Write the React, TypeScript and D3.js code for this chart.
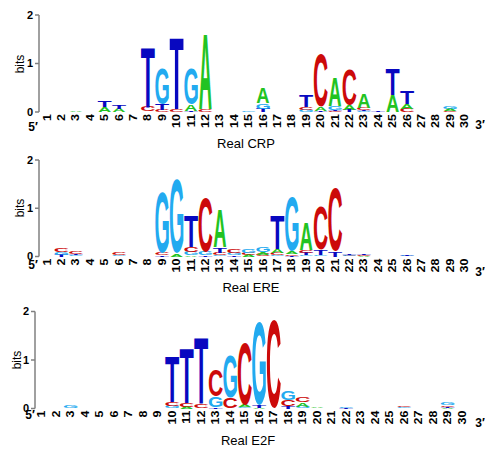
import React from "react"
import * as d3 from "d3"

const width = 485
const height = 449

const positions = d3.range(1, 31)
const bases = ["A", "C", "G", "T"]

// bits per base at positions 1..30
const crpA = [0, 0, 0.02, 0, 0.11, 0.07, 0, 0.01, 0, 0, 0.13, 1.58, 0, 0, 0, 0.32, 0, 0, 0, 0.07, 0.6, 0.1, 0.3, 0, 0.35, 0.1, 0, 0, 0.04, 0]
const crpC = [0, 0, 0, 0, 0, 0, 0, 0.1, 0.04, 0.06, 0, 0.06, 0, 0, 0, 0, 0, 0, 0.06, 1.14, 0.02, 0.76, 0.04, 0, 0, 0.07, 0, 0, 0.03, 0]
const crpG = [0, 0, 0, 0, 0, 0, 0, 0, 0.75, 0, 0.77, 0, 0, 0, 0.03, 0.12, 0, 0, 0.04, 0, 0.08, 0, 0.02, 0, 0, 0, 0, 0, 0.06, 0]
const crpT = [0, 0, 0, 0, 0.14, 0.09, 0, 1.25, 0.12, 1.5, 0.03, 0, 0, 0, 0, 0.07, 0, 0, 0.24, 0.03, 0.03, 0.04, 0.03, 0.03, 0.55, 0.27, 0, 0, 0, 0]

const ereA = [0, 0, 0, 0, 0, 0, 0, 0, 0, 0.06, 0.02, 0, 0.8, 0, 0.04, 0.06, 0.08, 0.06, 0.58, 0, 0, 0, 0.015, 0, 0, 0, 0, 0, 0, 0]
const ereC = [0, 0.09, 0.045, 0, 0, 0.04, 0, 0, 0.05, 0, 0.1, 1.17, 0.04, 0.07, 0.04, 0.04, 0.06, 0.03, 0.06, 0.95, 1.36, 0.015, 0.02, 0, 0, 0, 0, 0, 0, 0]
const ereG = [0, 0.06, 0.025, 0, 0, 0.03, 0, 0, 1.32, 1.6, 0.07, 0.07, 0.03, 0.04, 0.09, 0.1, 0.02, 1.17, 0.03, 0.03, 0, 0.02, 0, 0, 0, 0.015, 0, 0, 0, 0]
const ereT = [0, 0.04, 0.03, 0, 0, 0, 0, 0, 0.03, 0, 0.65, 0.02, 0.12, 0.03, 0, 0, 0.7, 0.02, 0.04, 0.12, 0.12, 0.03, 0.025, 0, 0, 0.03, 0, 0, 0, 0]

const e2fA = [0, 0, 0, 0, 0, 0, 0, 0, 0, 0, 0.04, 0, 0, 0, 0.05, 0.02, 0, 0, 0.09, 0.02, 0, 0, 0, 0, 0, 0, 0, 0, 0.015, 0]
const e2fC = [0, 0, 0, 0, 0, 0, 0, 0, 0, 0.07, 0.07, 0.09, 0.55, 0.23, 1.33, 0, 1.9, 0.14, 0.1, 0, 0, 0, 0, 0, 0, 0.035, 0, 0, 0.03, 0]
const e2fG = [0, 0, 0.04, 0, 0, 0, 0, 0, 0, 0.06, 0, 0, 0.22, 0.91, 0.03, 1.78, 0, 0.2, 0.04, 0.01, 0, 0.025, 0, 0, 0, 0.025, 0, 0, 0.06, 0]
const e2fT = [0, 0, 0, 0, 0, 0, 0, 0, 0, 0.95, 1.14, 1.39, 0.02, 0, 0, 0.05, 0, 0.04, 0, 0, 0, 0.02, 0, 0, 0, 0, 0, 0, 0.02, 0]

const colors = { A: "#22c322", C: "#cc0a0a", G: "#22aaf0", T: "#0808c0" }

// ink box of each bold glyph, in em
const glyph = {
  A: { w: 0.72, cx: 0, top: 0.716, bottom: 0 },
  C: { w: 0.63, cx: 0, top: 0.728, bottom: -0.012 },
  G: { w: 0.67, cx: -0.005, top: 0.728, bottom: -0.012 },
  T: { w: 0.57, cx: 0, top: 0.716, bottom: 0 },
}

const font = "'Liberation Sans', Arial, sans-serif"

const panels = [
  { title: "Real CRP", A: crpA, C: crpC, G: crpG, T: crpT, axisX: 39, baseY: 112, topY: 15, firstX: 47, step: 14.4, titleX: 246, titleY: 148, bitsX: 20, bitsY: 64, fiveX: 33, fiveY: 131, threeY: 129 },
  { title: "Real ERE", A: ereA, C: ereC, G: ereG, T: ereT, axisX: 39, baseY: 256.5, topY: 160, firstX: 47, step: 14.4, titleX: 251, titleY: 292, bitsX: 20, bitsY: 208, fiveX: 33, fiveY: 269, threeY: 276 },
  { title: "Real E2F", A: e2fA, C: e2fC, G: e2fG, T: e2fT, axisX: 35, baseY: 408.5, topY: 311.5, firstX: 41.7, step: 14.5, titleX: 248, titleY: 445, bitsX: 17, bitsY: 360, fiveX: 30, fiveY: 419, threeY: 427 },
]

function Letter({ base, cx, w, yBottom, h }) {
  const F = 100
  const m = glyph[base]
  const sx = w / (m.w * F)
  const sy = h / ((m.top - m.bottom) * F)
  const tx = cx - sx * m.cx * F
  const ty = yBottom + sy * m.bottom * F
  return (
    <text
      transform={`translate(${tx},${ty}) scale(${sx},${sy})`}
      fontSize={F}
      fontWeight="bold"
      fontFamily={font}
      textAnchor="middle"
      fill={colors[base]}
    >{base}</text>
  )
}

function Logo({ p }) {
  const x = d3.scaleBand()
    .domain(positions)
    .range([p.firstX - p.step / 2, p.firstX - p.step / 2 + 30 * p.step])
  const y = d3.scaleLinear().domain([0, 2]).range([p.baseY, p.topY])

  return (
    <g>
      {positions.map((pos, i) => {
        const stack = bases
          .map(b => ({ b, v: p[b][i] }))
          .filter(d => d.v > 0)
          .sort((a, c) => a.v - c.v)
        let acc = 0
        const cx = x(pos) + x.bandwidth() / 2
        return (
          <g key={pos}>
            {stack.map(d => {
              const yb = y(acc)
              acc += d.v
              const yt = y(acc)
              return <Letter key={d.b} base={d.b} cx={cx} w={x.bandwidth() * 0.92} yBottom={yb} h={yb - yt} />
            })}
            <text
              transform={`translate(${cx + 3.5},${p.baseY + 2}) rotate(-90) scale(1.25,1)`}
              fontSize={10}
              fontWeight="bold"
              fontFamily={font}
              textAnchor="end"
            >{pos}</text>
          </g>
        )
      })}

      <line x1={p.axisX} x2={p.axisX} y1={y(0)} y2={y(2)} stroke="#808080" strokeWidth={1.5} />
      {y.ticks(2).map(t => (
        <g key={t} transform={`translate(0,${y(t)})`}>
          <line x1={p.axisX - 4} x2={p.axisX} stroke="#808080" strokeWidth={1.5} />
          <text x={p.axisX - 6} dy="0.35em" fontSize={11} fontWeight="bold" fontFamily={font} textAnchor="end">{t}</text>
        </g>
      ))}
      <text
        transform={`translate(${p.bitsX + 4},${p.bitsY}) rotate(-90)`}
        fontSize={12}
        fontFamily={font}
        textAnchor="middle"
      >bits</text>
      <text x={p.fiveX} y={p.fiveY} fontSize={12} fontWeight="bold" fontFamily={font} textAnchor="middle">5′</text>
      <text x={480} y={p.threeY} fontSize={12} fontWeight="bold" fontFamily={font} textAnchor="middle">3′</text>
      <text x={p.titleX} y={p.titleY} fontSize={13} fontFamily={font} textAnchor="middle">{p.title}</text>
    </g>
  )
}

function App() {
  return (
    <svg width={width} height={height} style={{ position: "absolute", left: 0, top: 0, background: "#fff" }}>
      {panels.map(p => <Logo key={p.title} p={p} />)}
    </svg>
  )
}

export default App
